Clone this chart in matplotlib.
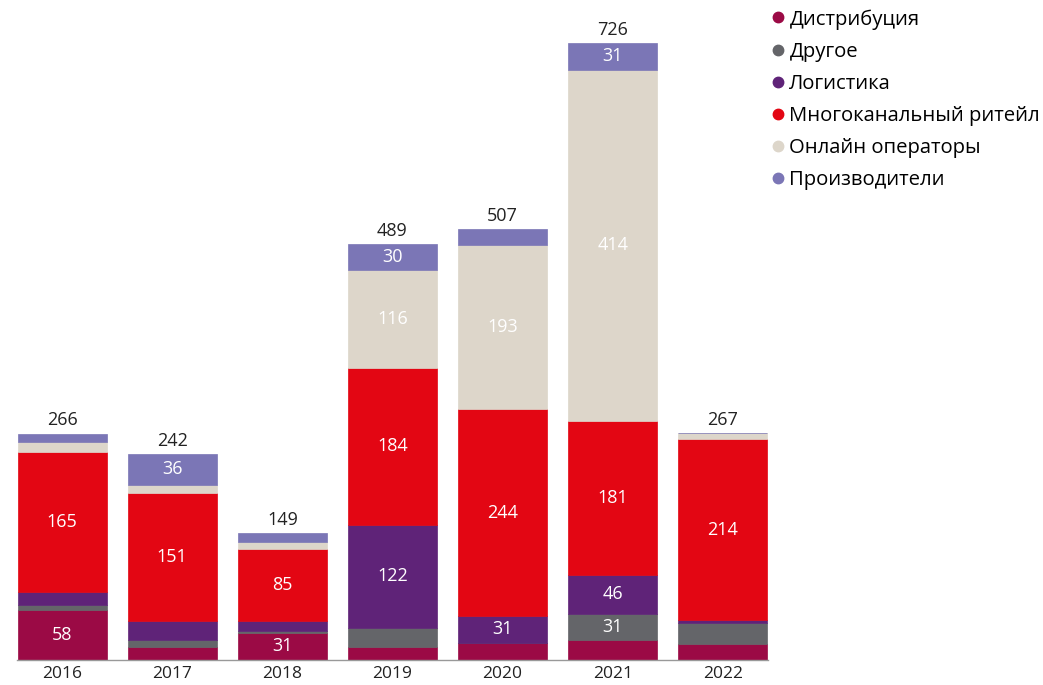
import matplotlib
matplotlib.use("Agg")
import matplotlib.pyplot as plt
from matplotlib.lines import Line2D
import numpy as np

years = ["2016", "2017", "2018", "2019", "2020", "2021", "2022"]
series_names = ["Дистрибуция", "Другое", "Логистика", "Многоканальный ритейл",
                "Онлайн операторы", "Производители"]
distribution = [58, 15, 31, 15, 20, 23, 18]
other = [6, 8, 3, 22, 0, 31, 25]
logistics = [16, 22, 11, 122, 31, 46, 3]
omni_retail = [165, 151, 85, 184, 244, 181, 214]
online = [11, 10, 9, 116, 193, 414, 7]
producers = [10, 36, 10, 30, 19, 31, 0]
totals = [266, 242, 149, 489, 507, 726, 267]

colors = ["#9B0A45", "#646569", "#5F2378", "#E30613", "#DDD6CA", "#7B76B6"]

plt.rcParams['font.family'] = ['Open Sans', 'DejaVu Sans']

fig = plt.figure(figsize=(10.43, 6.85), dpi=100)
ax = fig.add_axes([17/1043, 25.5/685, (768-17)/1043, 659.5/685])

data = [distribution, other, logistics, omni_retail, online, producers]
x = np.arange(len(years))
bottom = np.zeros(len(years))
for vals, col, name in zip(data, colors, series_names):
    vals = np.array(vals, dtype=float)
    ax.bar(x, vals, bottom=bottom, width=0.81, color=col, edgecolor=col, linewidth=0.5, label=name)
    for xi, v, b in zip(x, vals, bottom):
        if v >= 30:
            ax.text(xi, b + v / 2, f"{int(v)}", ha="center", va="center",
                    color="white", fontsize=13)
    bottom += vals

for xi, t in zip(x, totals):
    ax.text(xi, t + 5, f"{t}", ha="center", va="bottom", color="#222222", fontsize=13)

ax.set_xlim(-0.41, 6.41)
ax.set_ylim(0, 777)
ax.set_xticks(x)
ax.set_xticklabels(years, fontsize=12.5, color="#222222")
ax.tick_params(axis="x", length=0, pad=5)
ax.set_yticks([])
for s in ["top", "right", "left"]:
    ax.spines[s].set_visible(False)
ax.spines["bottom"].set_color("#999999")
ax.spines["bottom"].set_linewidth(1.0)

handles = [Line2D([0], [0], marker="o", linestyle="", markersize=7.5,
                  markerfacecolor=c, markeredgecolor=c) for c in colors]
fig.legend(handles, series_names, loc="upper left",
           bbox_to_anchor=(760/1043, 1 - 1/685), frameon=False,
           fontsize=14.6, handletextpad=0.05, labelspacing=0.6,
           handlelength=1.0, borderaxespad=0)

fig.savefig("out.png", dpi=100)
